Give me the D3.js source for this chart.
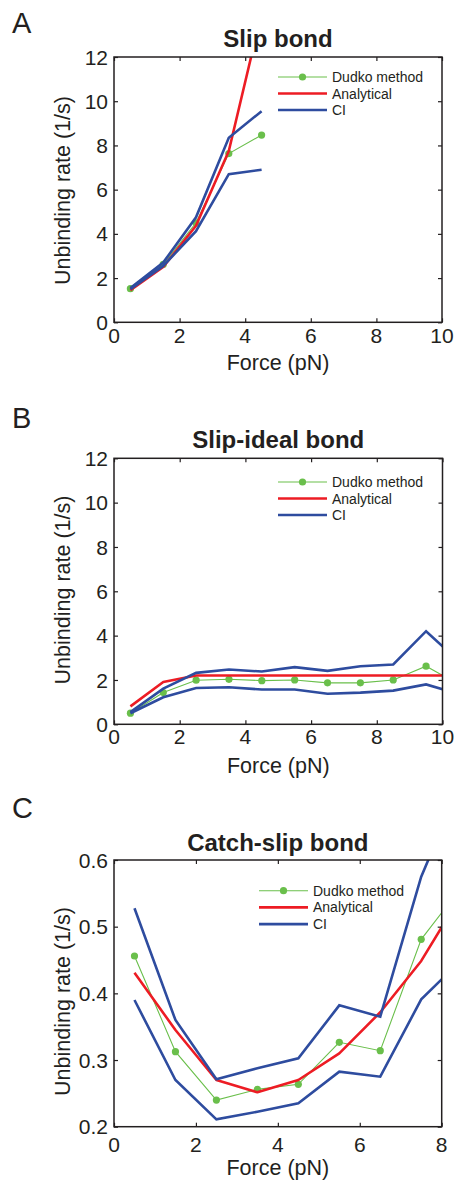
<!DOCTYPE html>
<html>
<head>
<meta charset="utf-8">
<script src="https://cdn.jsdelivr.net/npm/d3@7/dist/d3.min.js"></script>
<style>
  html, body { margin: 0; padding: 0; background: #fff; }
  svg { display: block; }
  text { font-family: "Liberation Sans", Arial, sans-serif; fill: #231f20; }
</style>
</head>
<body>
<svg id="chart" width="455" height="1181"></svg>
<script>
// ---------- Data ----------
const legendLabels = ["Dudko method", "Analytical", "CI"];

// Panel A: Slip bond
const forceA = [0.5, 1.5, 2.5, 3.5, 4.5];
const dudkoA = [1.52, 2.62, 4.5, 7.63, 8.47];
const analyticalA = [1.45, 2.5, 4.37, 7.75, 14.0];
const ciUpperA = [1.55, 2.7, 4.75, 8.35, 9.55];
const ciLowerA = [1.5, 2.55, 4.12, 6.7, 6.9];
const xTicksA = [0, 2, 4, 6, 8, 10];
const yTicksA = [0, 2, 4, 6, 8, 10, 12];

// Panel B: Slip-ideal bond
const forceB = [0.5, 1.5, 2.5, 3.5, 4.5, 5.5, 6.5, 7.5, 8.5, 9.5, 10.5];
const dudkoB = [0.5, 1.43, 1.99, 2.03, 1.97, 2.0, 1.87, 1.87, 2.0, 2.62, 1.8];
const analyticalB = [0.81, 1.91, 2.2, 2.2, 2.2, 2.2, 2.2, 2.2, 2.2, 2.2, 2.2];
const ciUpperB = [0.55, 1.61, 2.32, 2.47, 2.38, 2.58, 2.41, 2.62, 2.7, 4.2, 2.84];
const ciLowerB = [0.5, 1.22, 1.64, 1.67, 1.57, 1.57, 1.38, 1.43, 1.52, 1.8, 1.36];
const xTicksB = [0, 2, 4, 6, 8, 10];
const yTicksB = [0, 2, 4, 6, 8, 10, 12];

// Panel C: Catch-slip bond
const forceC = [0.5, 1.5, 2.5, 3.5, 4.5, 5.5, 6.5, 7.5, 8.5];
const dudkoC = [0.456, 0.3125, 0.24, 0.256, 0.2636, 0.3266, 0.314, 0.481, 0.561];
const analyticalC = [0.431, 0.345, 0.27, 0.2516, 0.27, 0.31, 0.3716, 0.4486, 0.55];
const ciUpperC = [0.5276, 0.36, 0.271, 0.2876, 0.3026, 0.382, 0.365, 0.575, 0.72];
const ciLowerC = [0.39, 0.27, 0.211, 0.2225, 0.235, 0.2825, 0.275, 0.391, 0.451];
const xTicksC = [0, 2, 4, 6, 8];
const yTicksC = [0.2, 0.3, 0.4, 0.5, 0.6];

// ---------- Styles ----------
const GREEN = "#6abf4b", RED = "#ed1c24", BLUE = "#2e4c9f", INK = "#231f20";

const svg = d3.select("#chart");

const panels = [
  { letter: "A", title: "Slip bond", force: forceA, dudko: dudkoA, analytical: analyticalA,
    ciU: ciUpperA, ciL: ciLowerA, xTicks: xTicksA, yTicks: yTicksA, xDom: [0, 10], yDom: [0, 12],
    yFmt: d3.format("d"),
    left: 114, right: 442, top: 57, bottom: 322.3,
    letterY: 33, titleY: 47, xTickY: 343, xLabelY: 369.5, yLabelY: 190.5,
    legX: 278, legY: 77, legStep: 16.5 },
  { letter: "B", title: "Slip-ideal bond", force: forceB, dudko: dudkoB, analytical: analyticalB,
    ciU: ciUpperB, ciL: ciLowerB, xTicks: xTicksB, yTicks: yTicksB, xDom: [0, 10], yDom: [0, 12],
    yFmt: d3.format("d"),
    left: 114, right: 442.5, top: 458.3, bottom: 724.3,
    letterY: 428, titleY: 447.5, xTickY: 744, xLabelY: 773, yLabelY: 590,
    legX: 278, legY: 482, legStep: 16.5 },
  { letter: "C", title: "Catch-slip bond", force: forceC, dudko: dudkoC, analytical: analyticalC,
    ciU: ciUpperC, ciL: ciLowerC, xTicks: xTicksC, yTicks: yTicksC, xDom: [0, 8], yDom: [0.2, 0.6],
    yFmt: d3.format(".1f"),
    left: 114, right: 441.7, top: 860, bottom: 1126.7,
    letterY: 818, titleY: 850.5, xTickY: 1152, xLabelY: 1174.5, yLabelY: 1001.5,
    legX: 259, legY: 890.7, legStep: 16.7 }
];

panels.forEach((p, i) => {
  const x = d3.scaleLinear().domain(p.xDom).range([p.left, p.right]);
  const y = d3.scaleLinear().domain(p.yDom).range([p.bottom, p.top]);
  const g = svg.append("g");

  // panel letter
  g.append("text").attr("x", 12).attr("y", p.letterY)
    .attr("font-size", 29).text(p.letter);

  // title
  g.append("text").attr("x", (p.left + p.right) / 2).attr("y", p.titleY)
    .attr("text-anchor", "middle").attr("font-size", 24).attr("font-weight", "bold")
    .text(p.title);

  // clip
  const clipId = "clip" + i;
  svg.append("defs").append("clipPath").attr("id", clipId)
    .append("rect").attr("x", p.left).attr("y", p.top)
    .attr("width", p.right - p.left).attr("height", p.bottom - p.top);

  const plot = g.append("g").attr("clip-path", `url(#${clipId})`);
  const line = d3.line().x(d => x(d[0])).y(d => y(d[1]));

  const zip = arr => p.force.map((f, k) => [f, arr[k]]);

  // Dudko (green thin line + markers)
  plot.append("path").datum(zip(p.dudko)).attr("d", line)
    .attr("fill", "none").attr("stroke", GREEN).attr("stroke-width", 1.1);
  plot.selectAll("circle.dot").data(zip(p.dudko)).join("circle")
    .attr("class", "dot").attr("cx", d => x(d[0])).attr("cy", d => y(d[1]))
    .attr("r", 3.6).attr("fill", GREEN);

  // Analytical
  plot.append("path").datum(zip(p.analytical)).attr("d", line)
    .attr("fill", "none").attr("stroke", RED).attr("stroke-width", 2.6)
    .attr("stroke-linejoin", "round");

  // CI
  [p.ciU, p.ciL].forEach(arr => {
    plot.append("path").datum(zip(arr)).attr("d", line)
      .attr("fill", "none").attr("stroke", BLUE).attr("stroke-width", 2.6)
      .attr("stroke-linejoin", "miter");
  });

  // axes (ticks inward on all four sides)
  const tl = 4;
  const axB = d3.axisBottom(x).tickValues(p.xTicks).tickSize(-tl).tickFormat("");
  const axT = d3.axisTop(x).tickValues(p.xTicks).tickSize(-tl).tickFormat("");
  const axL = d3.axisLeft(y).tickValues(p.yTicks).tickSize(-tl).tickFormat("");
  const axR = d3.axisRight(y).tickValues(p.yTicks).tickSize(-tl).tickFormat("");
  [[axB, `translate(0,${p.bottom})`], [axT, `translate(0,${p.top})`],
   [axL, `translate(${p.left},0)`], [axR, `translate(${p.right},0)`]].forEach(([ax, tr]) => {
    const a = g.append("g").attr("transform", tr).call(ax);
    a.select(".domain").remove();
    a.selectAll("line").attr("stroke", INK).attr("stroke-width", 1.2);
  });

  // frame
  g.append("rect").attr("x", p.left).attr("y", p.top)
    .attr("width", p.right - p.left).attr("height", p.bottom - p.top)
    .attr("fill", "none").attr("stroke", INK).attr("stroke-width", 1.5);

  // tick labels
  g.selectAll("text.xt").data(p.xTicks).join("text").attr("class", "xt")
    .attr("x", d => x(d)).attr("y", p.xTickY).attr("text-anchor", "middle")
    .attr("font-size", 21).text(d => d);
  g.selectAll("text.yt").data(p.yTicks).join("text").attr("class", "yt")
    .attr("x", p.left - 6).attr("y", d => y(d)).attr("dy", "0.36em")
    .attr("text-anchor", "end").attr("font-size", 21).text(d => p.yFmt(d));

  // axis labels
  g.append("text").attr("x", (p.left + p.right) / 2).attr("y", p.xLabelY)
    .attr("text-anchor", "middle").attr("font-size", 21.5).text("Force (pN)");
  g.append("text").attr("transform", `translate(70,${p.yLabelY}) rotate(-90)`)
    .attr("text-anchor", "middle").attr("font-size", 21.5).text("Unbinding rate (1/s)");

  // legend
  const leg = g.append("g");
  const lw = 49;
  legendLabels.forEach((lab, k) => {
    const ly = p.legY + k * p.legStep;
    const col = [GREEN, RED, BLUE][k];
    leg.append("line").attr("x1", p.legX).attr("x2", p.legX + lw)
      .attr("y1", ly).attr("y2", ly).attr("stroke", col)
      .attr("stroke-width", k === 0 ? 1.1 : 2.6);
    if (k === 0) {
      leg.append("circle").attr("cx", p.legX + lw / 2).attr("cy", ly).attr("r", 3.6).attr("fill", GREEN);
    }
    leg.append("text").attr("x", p.legX + lw + 5).attr("y", ly).attr("dy", "0.36em")
      .attr("font-size", 14).text(lab);
  });
});
</script>
</body>
</html>
